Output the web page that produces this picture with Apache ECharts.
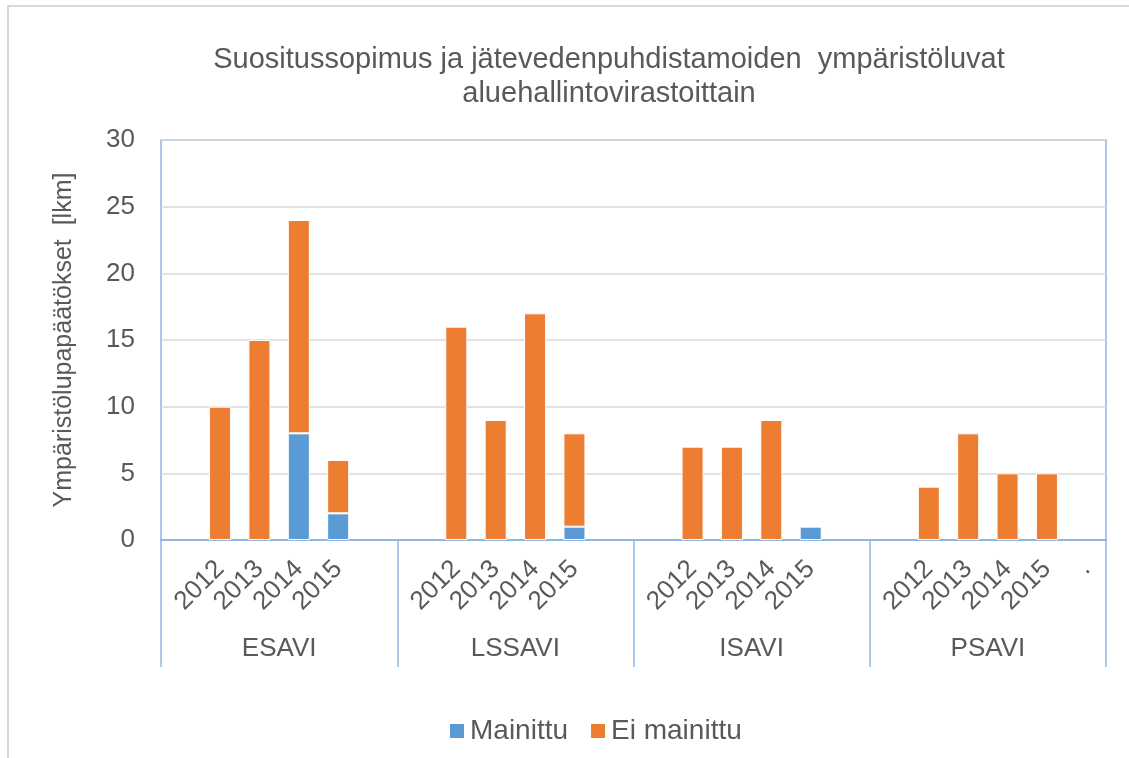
<!DOCTYPE html>
<html>
<head>
<meta charset="utf-8">
<script src="https://cdn.jsdelivr.net/npm/echarts@6/dist/echarts.min.js"></script>
<style>
  html, body { margin: 0; padding: 0; background: #fff; }
  #main { width: 1129px; height: 758px; }
</style>
</head>
<body>
<div id="main"></div>
<script>
// Data
var groups = ['ESAVI', 'LSSAVI', 'ISAVI', 'PSAVI'];
var years = ['2012', '2013', '2014', '2015'];
var lastLabel = '.';   // stray label at the end of PSAVI
var mainittu = [
  [0, 0, 8, 2],
  [0, 0, 0, 1],
  [0, 0, 0, 1],
  [0, 0, 0, 0]
];
var eiMainittu = [
  [10, 15, 16, 4],
  [16, 9, 17, 7],
  [7, 7, 9, 0],
  [4, 8, 5, 5]
];
var yTicks = [0, 5, 10, 15, 20, 25, 30];

var blue = '#5B9BD5';
var orange = '#ED7D31';
var frame = '#8EB4E3';
var textColor = '#595959';
var font = 'Liberation Sans, Arial, sans-serif';

// each group gets an empty slot before and after its four years
var categories = [];
var mData = [];
var eData = [];
groups.forEach(function (g, gi) {
  categories.push('');
  mData.push(null);
  eData.push(null);
  years.forEach(function (y, yi) {
    categories.push(y);
    mData.push(mainittu[gi][yi] || null);
    eData.push(eiMainittu[gi][yi] || null);
  });
  categories.push(gi === groups.length - 1 ? lastLabel : '');
  mData.push(null);
  eData.push(null);
});

var chart = echarts.init(document.getElementById('main'));

var option = {
  animation: false,
  backgroundColor: '#fff',
  textStyle: { fontFamily: font },
  title: {
    text: 'Suositussopimus ja jätevedenpuhdistamoiden  ympäristöluvat\naluehallintovirastoittain',
    left: 604,
    top: 38,
    textAlign: 'center',
    textStyle: {
      fontFamily: font,
      fontSize: 29,
      fontWeight: 'normal',
      color: textColor,
      lineHeight: 34
    }
  },
  legend: {
    left: 443,
    top: 712,
    icon: 'rect',
    itemWidth: 16,
    itemHeight: 16,
    itemGap: 21,
    textStyle: { fontFamily: font, fontSize: 28, color: textColor },
    data: ['Mainittu', 'Ei mainittu']
  },
  grid: {
    left: 161,
    right: 23,
    top: 140,
    bottom: 218,
    show: true,
    borderColor: frame,
    borderWidth: 1.5,
    containLabel: false
  },
  xAxis: [
    {
      type: 'category',
      data: categories,
      position: 'bottom',
      axisLine: { show: true, lineStyle: { color: frame, width: 1.5 } },
      axisTick: { show: false },
      axisLabel: {
        interval: 0,
        rotate: 45,
        margin: 25,
        fontSize: 26,
        fontFamily: font,
        color: textColor
      }
    },
    {
      type: 'category',
      data: groups,
      position: 'bottom',
      axisLine: { show: true, lineStyle: { color: frame, width: 1.5 } },
      axisTick: { show: true, interval: 0, length: 127, lineStyle: { color: frame, width: 1.5 } },
      axisLabel: {
        interval: 0,
        margin: 96,
        fontSize: 26,
        fontFamily: font,
        color: textColor
      }
    }
  ],
  yAxis: {
    type: 'value',
    min: yTicks[0],
    max: yTicks[yTicks.length - 1],
    interval: yTicks[1] - yTicks[0],
    name: 'Ympäristölupapäätökset  [lkm]',
    nameLocation: 'middle',
    nameRotate: 90,
    nameGap: 84,
    nameTextStyle: { fontFamily: font, fontSize: 25, color: textColor },
    axisLine: { show: false },
    axisTick: { show: false },
    axisLabel: { margin: 26, fontSize: 26, fontFamily: font, color: textColor },
    splitLine: { lineStyle: { color: '#D9D9D9', width: 1.5 } }
  },
  graphic: [
    {
      type: 'rect',
      silent: true,
      shape: { x: 8, y: 6, width: 1140, height: 770 },
      style: { fill: 'none', stroke: '#D9D9D9', lineWidth: 2 }
    }
  ],
  series: [
    {
      name: 'Mainittu',
      type: 'bar',
      stack: 'total',
      barWidth: '56%',
      data: mData,
      itemStyle: { color: blue, borderColor: '#fff', borderWidth: 1 }
    },
    {
      name: 'Ei mainittu',
      type: 'bar',
      stack: 'total',
      barWidth: '56%',
      data: eData,
      itemStyle: { color: orange, borderColor: '#fff', borderWidth: 1 }
    }
  ]
};

chart.setOption(option);
</script>
</body>
</html>
